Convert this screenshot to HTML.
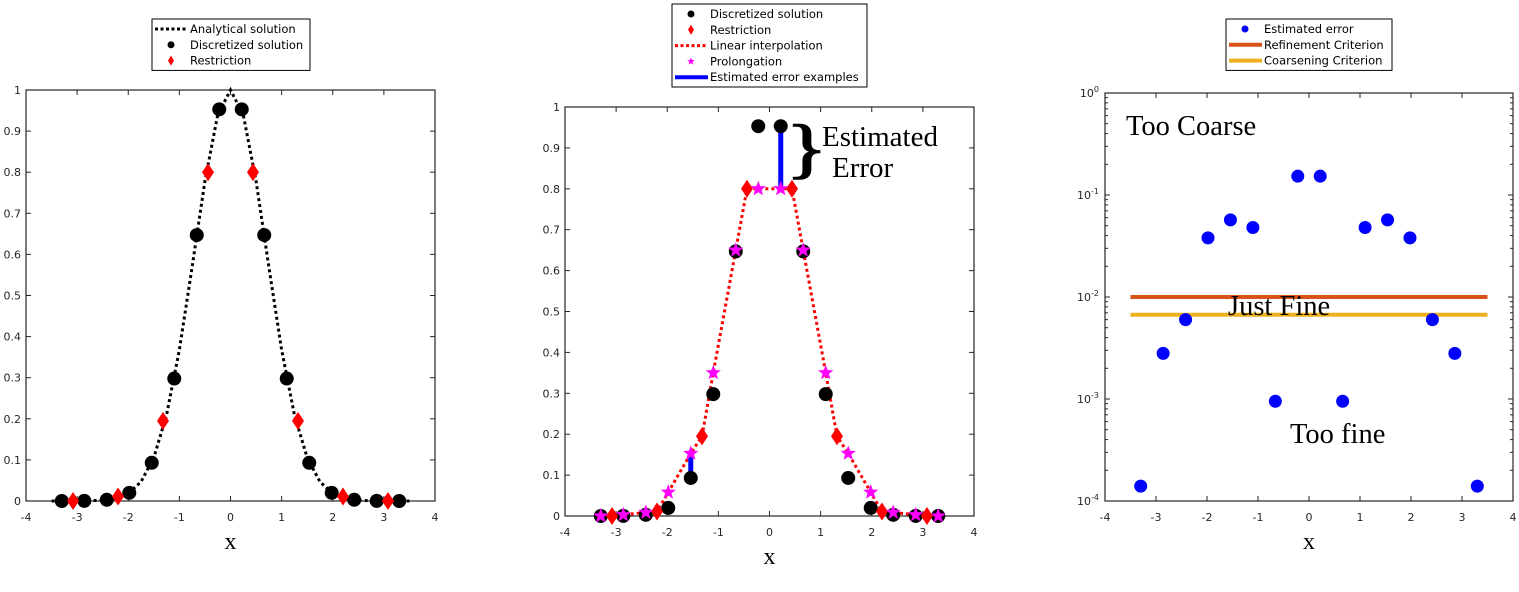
<!DOCTYPE html>
<html><head><meta charset="utf-8"><style>
body{margin:0;background:#fff;width:1519px;height:592px;overflow:hidden}
svg{display:block}
text{font-family:"DejaVu Sans","Liberation Sans",sans-serif}
.tk{font-size:11px;fill:#262626}
.lg{font-size:11.5px;fill:#000}
.ser{font-family:"Liberation Serif",serif;fill:#000}
</style></head><body>
<svg id="s" width="1519" height="592">
<g id="p1"></g>
<g id="p2"></g>
<g id="p3"></g>
</svg>
<script>
const xTicks=[-4,-3,-2,-1,0,1,2,3,4];
const yTicksLin=[0,0.1,0.2,0.3,0.4,0.5,0.6,0.7,0.8,0.9,1];
const yTickLabelsLin=['0','0.1','0.2','0.3','0.4','0.5','0.6','0.7','0.8','0.9','1'];
const yTicksLog=[-4,-3,-2,-1,0];
const analyticX=[-3.5,-3.25,-3,-2.75,-2.5,-2.25,-2,-1.75,-1.5,-1.25,-1,-0.75,-0.5,-0.25,0,0.25,0.5,0.75,1,1.25,1.5,1.75,2,2.25,2.5,2.75,3,3.25,3.5];
const analyticY=[0,0,0.0001,0.0005,0.0019,0.0063,0.0183,0.0468,0.1054,0.2096,0.3679,0.5698,0.7788,0.9394,1,0.9394,0.7788,0.5698,0.3679,0.2096,0.1054,0.0468,0.0183,0.0063,0.0019,0.0005,0.0001,0,0];
const discX=[-3.3,-2.86,-2.42,-1.98,-1.54,-1.1,-0.66,-0.22,0.22,0.66,1.1,1.54,1.98,2.42,2.86,3.3];
const discY=[0,0.0003,0.0029,0.0198,0.093,0.298,0.647,0.953,0.953,0.647,0.298,0.093,0.0198,0.0029,0.0003,0];
const restX=[-3.08,-2.2,-1.32,-0.44,0.44,1.32,2.2,3.08];
const restY=[0.0001,0.011,0.195,0.8,0.8,0.195,0.011,0.0001];
const prolY=[0,0.0029,0.0088,0.058,0.153,0.35,0.65,0.8,0.8,0.65,0.35,0.153,0.058,0.0088,0.0029,0];
const errY=[0.00014,0.0028,0.006,0.038,0.057,0.048,0.00095,0.153,0.153,0.00095,0.048,0.057,0.038,0.006,0.0028,0.00014];
const refineVal=0.01, coarsenVal=0.0067;
const errExX=[-1.54,0.22];

const NS='http://www.w3.org/2000/svg';
function mk(p,t,a,txt){const e=document.createElementNS(NS,t);for(const k in a)e.setAttribute(k,a[k]);if(txt!==undefined)e.textContent=txt;p.appendChild(e);return e;}
function axes(g,L,R,T,B,log){
  const sx=v=>L+(v+4)/8*(R-L);
  const sy=log?(v=>B-(Math.log10(v)+4)/4*(B-T)):(v=>B-v*(B-T));
  const box=mk(g,'rect',{x:L,y:T,width:R-L,height:B-T,fill:'none',stroke:'#262626','stroke-width':1.2});
  
  xTicks.forEach(v=>{const x=sx(v);
    mk(g,'line',{x1:x,x2:x,y1:B,y2:B-5,stroke:'#262626'});mk(g,'line',{x1:x,x2:x,y1:T,y2:T+5,stroke:'#262626'});
    const t=mk(g,'text',{x:x,y:B+20,'text-anchor':'middle',class:'tk'},String(v));
    });
  if(!log){yTicksLin.forEach((v,i)=>{const y=sy(v);
    mk(g,'line',{x1:L,x2:L+5,y1:y,y2:y,stroke:'#262626'});mk(g,'line',{x1:R,x2:R-5,y1:y,y2:y,stroke:'#262626'});
    const t=mk(g,'text',{x:L-5,y:y+4,'text-anchor':'end',class:'tk'},yTickLabelsLin[i]);
    });}
  else{yTicksLog.forEach(e=>{const y=B-(e+4)/4*(B-T);
    mk(g,'line',{x1:L,x2:L+5,y1:y,y2:y,stroke:'#262626'});mk(g,'line',{x1:R,x2:R-5,y1:y,y2:y,stroke:'#262626'});
    if(e<0)for(let m=2;m<10;m++){const yy=B-(e+4+Math.log10(m))/4*(B-T);
      mk(g,'line',{x1:L,x2:L+3,y1:yy,y2:yy,stroke:'#262626'});mk(g,'line',{x1:R,x2:R-3,y1:yy,y2:yy,stroke:'#262626'});}
    const t=mk(g,'text',{x:L-6,y:y+4,'text-anchor':'end',class:'tk'});
    
    mk(t,'tspan',{},'10');mk(t,'tspan',{dy:-5,'font-size':'8'},String(e));});}
  const xl=mk(g,'text',{x:(L+R)/2,y:B+48,'text-anchor':'middle',class:'ser','font-size':24},'x');
  
  return [sx,sy];
}
function dot(g,x,y,r,c,n){const e=mk(g,'circle',{cx:x,cy:y,r:r,fill:c});}
function diamond(g,x,y,n){const e=mk(g,'polygon',{points:`${x},${y-9} ${x+6},${y} ${x},${y+9} ${x-6},${y}`,fill:'#f00'});}
function star(g,x,y,R,n){let p=[];for(let i=0;i<10;i++){const r=i%2?R*0.42:R,a=-Math.PI/2+i*Math.PI/5;p.push((x+r*Math.cos(a)).toFixed(1)+','+(y+r*Math.sin(a)).toFixed(1));}
  const e=mk(g,'polygon',{points:p.join(' '),fill:'#f0f'});}
function legend(g,x,y,w,items){
  const h=items.length*15.8+4;
  const r=mk(g,'rect',{x:x,y:y,width:w,height:h,fill:'#fff',stroke:'#000','stroke-width':1});
  
  items.forEach((it,i)=>{const cy=y+10+i*15.8,cx=x+19;
    if(it[0]=='dotline')mk(g,'line',{x1:x+3,x2:x+36,y1:cy,y2:cy,stroke:it[2],'stroke-width':3,'stroke-dasharray':'3,2.5'});
    if(it[0]=='line')mk(g,'line',{x1:x+3,x2:x+36,y1:cy,y2:cy,stroke:it[2],'stroke-width':4});
    if(it[0]=='dot')mk(g,'circle',{cx:cx,cy:cy,r:3.5,fill:it[2]});
    if(it[0]=='dia')mk(g,'polygon',{points:`${cx},${cy-5} ${cx+3},${cy} ${cx},${cy+5} ${cx-3},${cy}`,fill:'#f00'});
    if(it[0]=='star')star(g,cx,cy,4,'legend-star');
    const t=mk(g,'text',{x:x+38,y:cy+4,class:'lg'},it[1]);
    });
}
// Panel 1
(function(){const g=document.getElementById('p1');const [sx,sy]=axes(g,26,435,90,501,false);
  const c=mk(g,'polyline',{points:analyticX.map((x,i)=>sx(x)+','+sy(analyticY[i])).join(' '),fill:'none',stroke:'#000','stroke-width':3,'stroke-dasharray':'3,3'});
  
  discX.forEach((x,i)=>dot(g,sx(x),sy(discY[i]),7,'#000','discretized-point'));
  restX.forEach((x,i)=>diamond(g,sx(x),sy(restY[i]),'restriction-point'));
  legend(g,152,19,158,[['dotline','Analytical solution','#000'],['dot','Discretized solution','#000'],['dia','Restriction']]);
})();
// Panel 2
(function(){const g=document.getElementById('p2');const [sx,sy]=axes(g,565,974,107,516,false);
  const pts=discX.map((x,i)=>[x,prolY[i]]).concat(restX.map((x,i)=>[x,restY[i]])).sort((a,b)=>a[0]-b[0]);
  const c=mk(g,'polyline',{points:pts.map(p=>sx(p[0])+','+sy(p[1])).join(' '),fill:'none',stroke:'#f00','stroke-width':3,'stroke-dasharray':'3,3'});
  
  errExX.forEach(ex=>{const i=discX.indexOf(ex);const e=mk(g,'line',{x1:sx(ex),x2:sx(ex),y1:sy(discY[i]),y2:sy(prolY[i]),stroke:'#00f','stroke-width':5});
    });
  discX.forEach((x,i)=>dot(g,sx(x),sy(discY[i]),7,'#000','discretized-point'));
  restX.forEach((x,i)=>diamond(g,sx(x),sy(restY[i]),'restriction-point'));
  discX.forEach((x,i)=>star(g,sx(x),sy(prolY[i]),8,'prolongation-point'));
  const b=mk(g,'text',{x:0,y:0,class:'ser','font-size':66,stroke:'#000','stroke-width':1.5,transform:'translate(786,170) scale(1.3,1)'},'}');
  
  const t1=mk(g,'text',{x:822,y:146,class:'ser','font-size':29},'Estimated');
  const t2=mk(g,'text',{x:832,y:177,class:'ser','font-size':29},'Error');
  legend(g,672,4,195,[['dot','Discretized solution','#000'],['dia','Restriction'],['dotline','Linear interpolation','#f00'],['star','Prolongation'],['line','Estimated error examples','#00f']]);
})();
// Panel 3
(function(){const g=document.getElementById('p3');const [sx,sy]=axes(g,1105,1513,93,501,true);
  [[refineVal,'#d95319','refinement-line'],[coarsenVal,'#edb120','coarsening-line']].forEach(r=>{
    const e=mk(g,'line',{x1:sx(-3.5),x2:sx(3.5),y1:sy(r[0]),y2:sy(r[0]),stroke:r[1],'stroke-width':4});
    });
  discX.forEach((x,i)=>dot(g,sx(x),sy(errY[i]),6.5,'#00f','error-point'));
  [['Too Coarse',1126,135,'too-coarse-label'],['Just Fine',1228,315,'just-fine-label'],['Too fine',1290,443,'too-fine-label']].forEach(a=>{
    const t=mk(g,'text',{x:a[1],y:a[2],class:'ser','font-size':28.5},a[0]);});
  legend(g,1226,19,166,[['dot','Estimated error','#00f'],['line','Refinement Criterion','#d95319'],['line','Coarsening Criterion','#edb120']]);
})();
</script>
</body></html>
